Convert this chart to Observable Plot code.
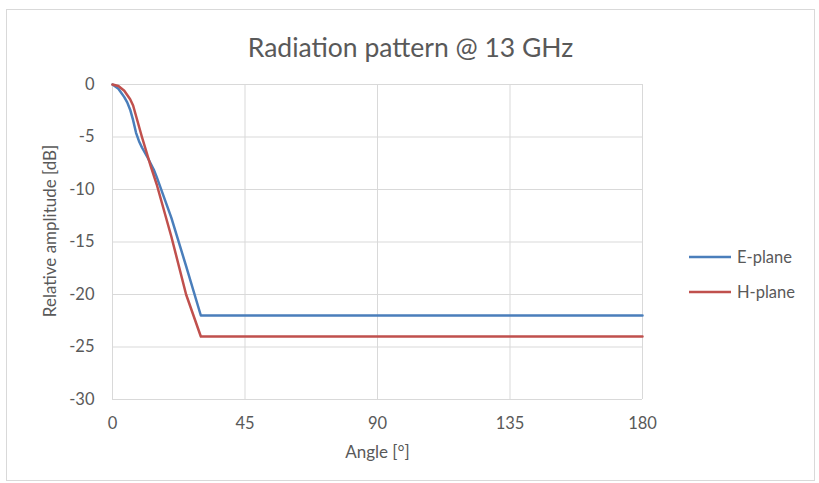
<!DOCTYPE html>
<html>
<head>
<meta charset="utf-8">
<script src="https://cdn.jsdelivr.net/npm/d3@7"></script>
<script src="https://cdn.jsdelivr.net/npm/@observablehq/plot@0.6"></script>
<style>
  html, body { margin: 0; padding: 0; background: #fff; }
  #wrap { position: relative; width: 819px; height: 483px; overflow: hidden; font-family: Lato, "Open Sans", sans-serif; }
  #border { position: absolute; left: 6px; top: 9px; width: 807px; height: 470px; border: 1px solid #d9d9d9; pointer-events: none; }
  #legend { position: absolute; left: 689px; top: 239px; font-size: 16.5px; color: #595959; }
  .item { display: flex; align-items: center; height: 35px; }
  .item svg { margin-right: 6px; }
</style>
</head>
<body>
<div id="wrap"><div id="border"></div><div id="legend"></div></div>
<script>
const titleText = "Radiation pattern @ 13 GHz";
const xLabel = "Angle [°]";
const yLabel = "Relative amplitude [dB]";
const xTicks = [0, 45, 90, 135, 180];
const yTicks = [0, -5, -10, -15, -20, -25, -30];
const seriesNames = ["E-plane", "H-plane"];
const seriesColors = ["#4a7ebb", "#c0504d"];

const eAngle = [0, 2, 4, 5, 6, 7, 8, 9, 10, 12, 14, 15, 20, 25, 30, 45, 90, 135, 180];
const eDb    = [0, -0.4, -1.2, -1.7, -2.4, -3.4, -4.6, -5.4, -6.0, -7.0, -8.1, -8.8, -12.7, -17.3, -22, -22, -22, -22, -22];
const hAngle = [0, 2, 4, 6, 7, 8, 10, 13, 15, 20, 25, 30, 45, 90, 135, 180];
const hDb    = [0, -0.15, -0.6, -1.4, -2.0, -3.0, -5.0, -7.8, -9.5, -14.5, -20, -24, -24, -24, -24, -24];

const data = [
  ...eAngle.map((a, i) => ({angle: a, db: eDb[i], series: seriesNames[0]})),
  ...hAngle.map((a, i) => ({angle: a, db: hDb[i], series: seriesNames[1]}))
];

const grid = "#d9d9d9";
const txt = "#595959";

const chart = Plot.plot({
  width: 819,
  height: 483,
  marginLeft: 112,
  marginRight: 177,
  marginTop: 84,
  marginBottom: 84,
  style: {fontFamily: "Lato, 'Open Sans', sans-serif", fontSize: "16px", color: txt, background: "transparent"},
  x: {domain: [0, 180], label: null},
  y: {domain: [-30, 0], label: null},
  color: {domain: seriesNames, range: seriesColors},
  marks: [
    Plot.gridY(yTicks, {stroke: grid, strokeOpacity: 1, strokeWidth: 1}),
    Plot.gridX(xTicks, {stroke: grid, strokeOpacity: 1, strokeWidth: 1}),
    Plot.axisX(xTicks, {tickSize: 0, tickPadding: 18, fontSize: 16.5, fill: txt, stroke: null, tickFormat: d => String(d)}),
    Plot.axisY(yTicks, {tickSize: 0, tickPadding: 18, fontSize: 16.5, fill: txt, stroke: null, tickFormat: d => String(d)}),
    Plot.line(data, {x: "angle", y: "db", z: "series", stroke: "series", strokeWidth: 2.5, curve: "linear"}),
    Plot.text([titleText], {frameAnchor: "top", dx: 33, dy: -46, fontSize: 26.5, fill: txt, text: d => d}),
    Plot.text([xLabel], {frameAnchor: "bottom", dy: 58, fontSize: 17, fill: txt, text: d => d}),
    Plot.text([yLabel], {frameAnchor: "left", textAnchor: "middle", dx: -62, dy: -11, rotate: -90, fontSize: 17, fill: txt, text: d => d})
  ]
});

const wrap = document.getElementById("wrap");
chart.style.position = "absolute";
chart.style.left = "0px";
chart.style.top = "0px";
wrap.insertBefore(chart, wrap.firstChild);

const legend = d3.select("#legend");
seriesNames.forEach((name, i) => {
  const item = legend.append("div").attr("class", "item");
  const s = item.append("svg").attr("width", 42).attr("height", 6);
  s.append("line").attr("x1", 0).attr("x2", 42).attr("y1", 3).attr("y2", 3)
    .attr("stroke", seriesColors[i]).attr("stroke-width", 2.5);
  item.append("span").text(name);
});
</script>
</body>
</html>
